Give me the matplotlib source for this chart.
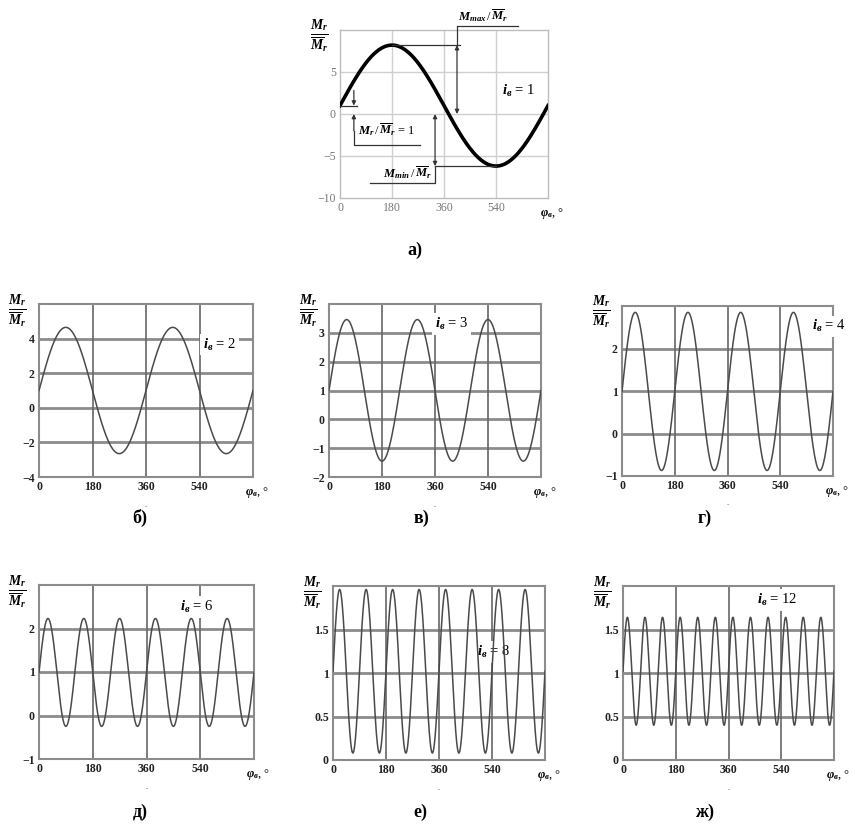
import numpy as np
import matplotlib
matplotlib.use("Agg")
import matplotlib.pyplot as plt

plt.rcParams['font.family'] = ['Liberation Serif', 'DejaVu Serif']
plt.rcParams['mathtext.fontset'] = 'custom'
plt.rcParams['mathtext.rm'] = 'Liberation Serif'
plt.rcParams['mathtext.it'] = 'Liberation Serif:italic'
plt.rcParams['mathtext.bf'] = 'Liberation Serif:bold:italic'

# Число пар полюсов и экстремумы относительного момента
i_values = [1, 2, 3, 4, 6, 8, 12]
m_max = [8.2, 4.65, 3.46, 2.85, 2.23, 1.96, 1.64]
m_min = [-6.2, -2.65, -1.45, -0.87, -0.25, 0.08, 0.40]

# Пределы осей и шаг делений
y_lo = [-10, -4, -2, -1, -1, 0, 0]
y_hi = [10, 6, 4, 3, 3, 2, 2]
y_step = [5, 2, 1, 1, 1, 0.5, 0.5]
x_ticks = [0, 180, 360, 540]
x_max = 720

panel_names = ['а)', 'б)', 'в)', 'г)', 'д)', 'е)', 'ж)']
# положение подписи i_в (в координатах данных)
i_label_x = [560, 552, 360, 648, 472, 489, 457]
i_label_y = [2.7, 3.66, 3.3, 2.52, 2.49, 1.24, 1.84]

W, H = 855, 833
boxes = [  # left, top, right, bottom в пикселях
    (340, 30, 548, 198),
    (39, 304, 253, 477),
    (329, 304, 541, 477),
    (622, 306, 833, 476),
    (39, 585, 254, 759),
    (333, 586, 545, 760),
    (623, 586, 834, 760),
]
name_pos = [(415, 250), (140, 518), (421, 518), (705, 518),
            (140, 812), (420, 812), (705, 812)]

fig = plt.figure(figsize=(W / 100, H / 100), dpi=100)

ylabel = r'$\frac{\mathbf{M}_{\mathbf{r}}}{\overline{\mathbf{M}}_{\mathbf{r}}}$'
xlabel = r'$\mathbf{\varphi}_{\mathbf{в}}$' + ', °'

phi = np.linspace(0, x_max, 3000)

for k, (l, t, r, b) in enumerate(boxes):
    ax = fig.add_axes([l / W, 1 - b / H, (r - l) / W, (b - t) / H])
    mid = (m_max[k] + m_min[k]) / 2
    amp = (m_max[k] - m_min[k]) / 2
    curve = mid + amp * np.sin(i_values[k] * np.pi * phi / 360)

    first = k == 0
    hcol = '#cfcfcf' if first else '#8c8c8c'
    vcol = '#cfcfcf' if first else '#666666'
    hlw = 1.0 if first else 2.0
    vlw = 1.0 if first else 1.2

    ax.plot(phi, curve, color='black' if first else '#4a4a4a',
            lw=2.6 if first else 1.1, zorder=4)

    yt = np.arange(y_lo[k], y_hi[k] + 1e-9, y_step[k])
    for v in yt[1:-1]:
        ax.axhline(v, color=hcol, lw=hlw, zorder=1)
    for v in x_ticks[1:]:
        ax.axvline(v, color=vcol, lw=vlw, zorder=1)

    ax.set_xlim(0, x_max)
    ax.set_ylim(y_lo[k], y_hi[k])
    ax.set_xticks(x_ticks)
    ax.set_yticks(yt[:-1])
    ytl = []
    for v in yt[:-1]:
        s = f'{v:g}'.replace('-', '\u2212')
        ytl.append(s)
    ax.set_yticklabels(ytl)
    ax.tick_params(length=0, labelsize=8.5, pad=3,
                   colors='#777777' if first else '#222222')
    if not first:
        for lab in ax.get_xticklabels() + ax.get_yticklabels():
            lab.set_fontweight('bold')
    for sp in ax.spines.values():
        sp.set_color('#bdbdbd' if first else '#8c8c8c')
        sp.set_linewidth(1.0 if first else 1.5)

    ax.text(-0.1, 0.96, ylabel, transform=ax.transAxes, ha='center',
            va='center', fontsize=14)
    ax.text(1.02, -0.09, xlabel, transform=ax.transAxes, ha='center',
            va='center', fontsize=9)
    if not first:
        ax.text(0.5, -0.17, '-', transform=ax.transAxes, ha='center',
                va='center', fontsize=5, color='#555555')

    ax.text(i_label_x[k], i_label_y[k],
            r'$\mathbf{i}_{\mathbf{в}}$' + f' = {i_values[k]}',
            ha='left', va='center', fontsize=10.5, zorder=3,
            bbox=dict(facecolor='white', edgecolor='none', pad=2))

    fig.text(name_pos[k][0] / W, 1 - name_pos[k][1] / H, panel_names[k],
             ha='center', va='center', fontsize=13, fontweight='bold')

    if first:
        top, bot = m_max[0], m_min[0]
        lk = dict(color='#333333', lw=0.9, clip_on=False, zorder=5)
        ak = dict(arrowstyle='<|-|>', color='#333333', lw=0.9,
                  mutation_scale=6, shrinkA=0, shrinkB=0)
        # максимум
        ax.plot([180, 415], [top, top], **lk)
        ax.annotate('', xy=(405, top), xytext=(405, 0), arrowprops=ak)
        ax.plot([405, 405, 616], [top, 10.5, 10.5], **lk)
        ax.text(410, 10.7, r'$\mathbf{M}_{\mathbf{max}}\,/\,\overline{\mathbf{M}}_{\mathbf{r}}$',
                ha='left', va='bottom', fontsize=9)
        # минимум
        ax.plot([329, 540], [bot, bot], **lk)
        ax.annotate('', xy=(329, bot), xytext=(329, 0), arrowprops=ak)
        ax.plot([329, 329, 104], [bot, -8.2, -8.2], **lk)
        ax.text(320, -8.0, r'$\mathbf{M}_{\mathbf{min}}\,/\,\overline{\mathbf{M}}_{\mathbf{r}}$',
                ha='right', va='bottom', fontsize=9)
        # начальное значение
        ax.plot([0, 60], [1, 1], **lk)
        sk = dict(arrowstyle='-|>', color='#333333', lw=0.9,
                  mutation_scale=6, shrinkA=0, shrinkB=0)
        ax.annotate('', xy=(48, 1), xytext=(48, 2.8), arrowprops=sk)
        ax.annotate('', xy=(48, 0), xytext=(48, -2.0), arrowprops=sk)
        ax.plot([48, 48, 277], [-2.0, -3.7, -3.7], **lk)
        ax.text(62, -2.9, r'$\mathbf{M}_{\mathbf{r}}\,/\,\overline{\mathbf{M}}_{\mathbf{r}}$ = 1',
                ha='left', va='bottom', fontsize=9)

fig.savefig('out.png', dpi=100, facecolor='white')
